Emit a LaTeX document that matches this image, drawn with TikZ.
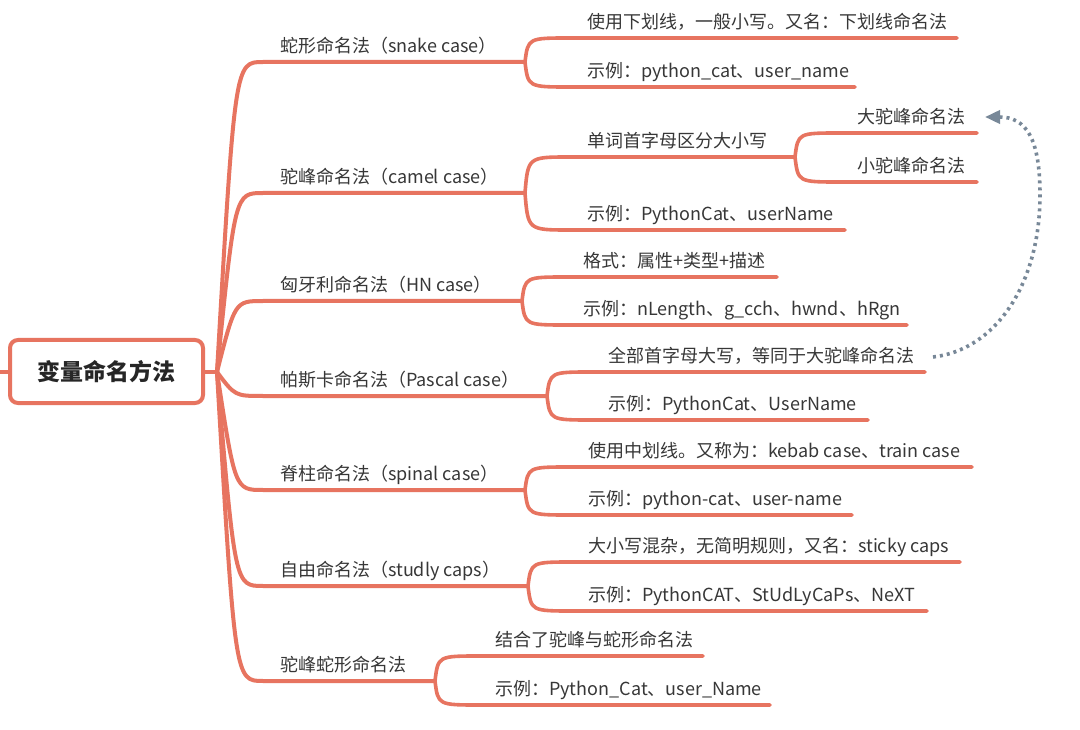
\documentclass[tikz,border=0pt]{standalone}
\usepackage{fontspec}
\setmainfont{Noto Sans CJK SC}
\usetikzlibrary{arrows.meta}
\definecolor{mmred}{RGB}{231,116,96}
\definecolor{mmtext}{RGB}{55,55,55}
\definecolor{mmgray}{RGB}{120,136,152}
% root branch: junction x, junction y, target y, end x
\newcommand\rootbranch[4]{\draw[cline] (#1,#2) .. controls ({#1+18},#3) .. ({#1+46},#3) -- (#4,#3);}
% sub branch: junction x, junction y, target y, end x
\newcommand\subbranch[4]{\draw[sline] (#1,#2) .. controls ({#1+3},#3) .. ({#1+45},#3) -- (#4,#3);}
\begin{document}
\begin{tikzpicture}[x=1pt,y=-1pt,
  cline/.style={draw=mmred,line width=4pt,line cap=round},
  sline/.style={draw=mmred,line width=3.6pt,line cap=round},
  lbl/.style={anchor=base west,inner sep=0pt,text=mmtext,font=\fontsize{18}{20}\selectfont},
  rootbox/.style={draw=mmred,line width=4pt,rounded corners=8pt,minimum width=193pt,minimum height=63pt,fill=white,text=black!85,font=\fontsize{23}{26}\selectfont\bfseries},
  dotarrow/.style={draw=mmgray,line width=3.6pt,line cap=butt,dash pattern=on 3pt off 4pt,-{Triangle[length=15pt,width=13pt,fill=mmgray]}}
]
\useasboundingbox (0,0) rectangle (1080,730);
\fill[white] (0,0) rectangle (1080,730);

% root
\coordinate (lstub) at (0,372);
\coordinate (j0) at (217,372);
\draw[cline] (lstub) -- (10,372);
\draw[cline] (203,372) -- (j0);
\node[rootbox] (root) at (106.5,371.5) {变量命名方法};

% children
\rootbranch{217}{372}{62}{525}
\rootbranch{217}{372}{193}{525}
\rootbranch{217}{372}{301}{522}
\rootbranch{217}{372}{396}{547}
\rootbranch{217}{372}{490}{525}
\rootbranch{217}{372}{586}{528}
\rootbranch{217}{372}{681}{435}

\node[lbl] (c1) at (280,52.5) {蛇形命名法（snake case）};
\node[lbl] (c2) at (280,183.5) {驼峰命名法（camel case）};
\node[lbl] (c3) at (280,291.5) {匈牙利命名法（HN case）};
\node[lbl] (c4) at (280,386.5) {帕斯卡命名法（Pascal case）};
\node[lbl] (c5) at (280,480.5) {脊柱命名法（spinal case）};
\node[lbl] (c6) at (280,576.5) {自由命名法（studly caps）};
\node[lbl] (c7) at (280,671.5) {驼峰蛇形命名法};

% child 1
\subbranch{525}{62}{38}{957}
\subbranch{525}{62}{87}{855}
\node[lbl] (s1a) at (587,28.5) {使用下划线，一般小写。又名：下划线命名法};
\node[lbl] (s1b) at (587,77.5) {示例：python\_cat、user\_name};

% child 2
\subbranch{525}{193}{157}{795}
\subbranch{525}{193}{230}{845}
\node[lbl] (s2a) at (587,147.5) {单词首字母区分大小写};
\node[lbl] (s2b) at (587,220.5) {示例：PythonCat、userName};
\subbranch{795}{157}{133}{977}
\subbranch{795}{157}{182}{977}
\node[lbl] (s2a1) at (857,123.5) {大驼峰命名法};
\node[lbl] (s2a2) at (857,172.5) {小驼峰命名法};

% child 3
\subbranch{522}{301}{277}{777}
\subbranch{522}{301}{325}{907}
\node[lbl] (s3a) at (583,267.5) {格式：属性+类型+描述};
\node[lbl] (s3b) at (583,315.5) {示例：nLength、g\_cch、hwnd、hRgn};

% child 4
\subbranch{547}{396}{372}{925}
\subbranch{547}{396}{420}{868}
\node[lbl] (s4a) at (608,362.5) {全部首字母大写，等同于大驼峰命名法};
\node[lbl] (s4b) at (608,410.5) {示例：PythonCat、UserName};

% child 5
\subbranch{525}{490}{467}{972}
\subbranch{525}{490}{515}{852}
\node[lbl] (s5a) at (588,457.5) {使用中划线。又称为：kebab case、train case};
\node[lbl] (s5b) at (588,505.5) {示例：python-cat、user-name};

% child 6
\subbranch{528}{586}{562}{960}
\subbranch{528}{586}{611}{927}
\node[lbl] (s6a) at (588,552.5) {大小写混杂，无简明规则，又名：sticky caps};
\node[lbl] (s6b) at (588,601.5) {示例：PythonCAT、StUdLyCaPs、NeXT};

% child 7
\subbranch{435}{681}{656}{703}
\subbranch{435}{681}{705}{770}
\node[lbl] (s7a) at (495,646.5) {结合了驼峰与蛇形命名法};
\node[lbl] (s7b) at (495,695.5) {示例：Python\_Cat、user\_Name};

% dotted relation arrow
\coordinate (arrS) at (933,357);
\coordinate (arrE) at (985,117);
\draw[dotarrow] (arrS) .. controls (995,350) and (1040,285) .. (1040,195)
  .. controls (1040,138) and (1026,117) .. (arrE);
\end{tikzpicture}
\end{document}
